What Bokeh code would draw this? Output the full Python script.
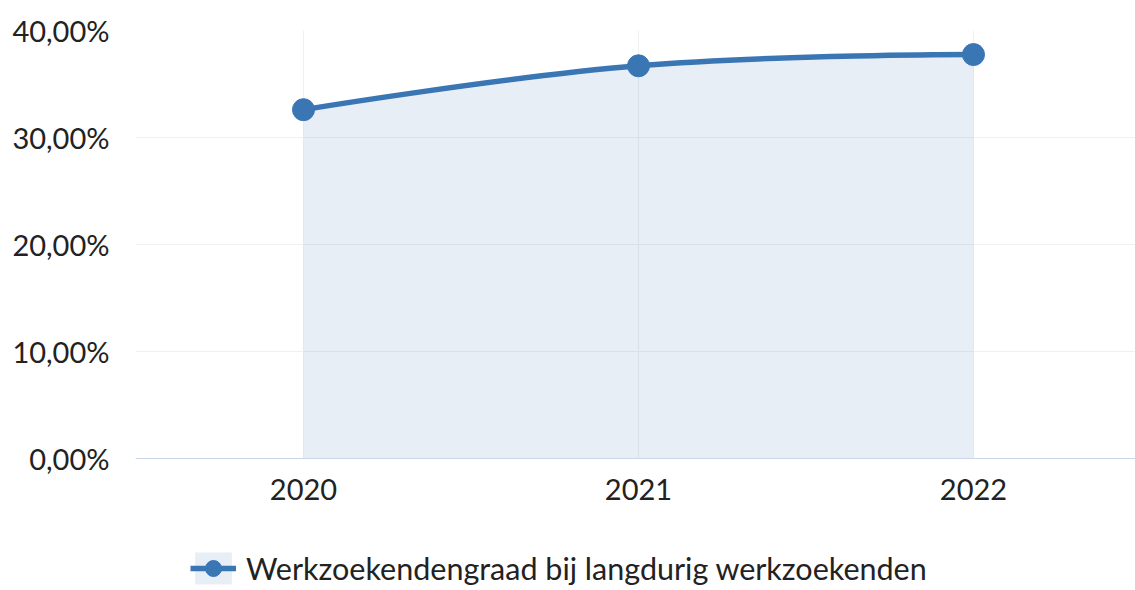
from bokeh.plotting import figure
from bokeh.models import (FixedTicker, Legend, LegendItem, Range1d, Span)
from bokeh.core.properties import value
from bokeh.embed import file_html
from bokeh.resources import INLINE

# ---- data ----
years = ["2020", "2021", "2022"]
values = [32.6, 36.7, 37.75]
y_ticks = [0, 10, 20, 30, 40]
y_tick_labels = ["0,00%", "10,00%", "20,00%", "30,00%", "40,00%"]
series_name = "Werkzoekendengraad bij langdurig werkzoekenden"

BLUE = "#3a76b4"
FONT = "Lato"
TXT = "#222222"
GRID = "#f0f0f0"

xs = list(range(len(years)))
n = len(xs)

p = figure(frame_width=1000, frame_height=560, output_backend="svg",
           toolbar_location=None, x_axis_location=None,
           x_range=Range1d(-0.5015, 2.4836), y_range=Range1d(-12.336, 40),
           min_border_left=135, min_border_right=0, min_border_top=30,
           min_border_bottom=0)
p.outline_line_color = None
p.background_fill_color = "white"
p.xgrid.visible = False

# vertical category grid lines (only over the value range)
p.segment(x0=xs, y0=[y_ticks[0]] * n, x1=xs, y1=[y_ticks[-1]] * n,
          line_color=GRID, line_width=1)

# area
area = p.varea(x=xs, y1=[0] * n, y2=values, fill_color=BLUE, fill_alpha=0.12)

# spline (Highcharts-style control points computed from the data)
smoothing = 1.5
denom = smoothing + 1
ctrl_r = {}
ctrl_l = {}
for i in range(1, n - 1):
    x, y = xs[i], values[i]
    lx, ly = xs[i - 1], values[i - 1]
    nx, ny = xs[i + 1], values[i + 1]
    lcx = (smoothing * x + lx) / denom
    lcy = (smoothing * y + ly) / denom
    rcx = (smoothing * x + nx) / denom
    rcy = (smoothing * y + ny) / denom
    corr = ((rcy - lcy) * (rcx - x)) / (rcx - lcx) + y - rcy
    lcy += corr
    rcy += corr
    ctrl_l[i] = (lcx, lcy)
    ctrl_r[i] = (rcx, rcy)

x0, y0, x1, y1, cx0, cy0, cx1, cy1 = [], [], [], [], [], [], [], []
for i in range(n - 1):
    x0.append(xs[i]); y0.append(values[i])
    x1.append(xs[i + 1]); y1.append(values[i + 1])
    c0 = ctrl_r.get(i, (xs[i], values[i]))
    c1 = ctrl_l.get(i + 1, (xs[i + 1], values[i + 1]))
    cx0.append(c0[0]); cy0.append(c0[1])
    cx1.append(c1[0]); cy1.append(c1[1])

curve = p.bezier(x0=x0, y0=y0, x1=x1, y1=y1, cx0=cx0, cy0=cy0, cx1=cx1, cy1=cy1,
                 line_color=BLUE, line_width=5.5)
pts = p.scatter(x=xs, y=values, size=22, fill_color=BLUE, line_color=BLUE)

# x axis line at 0 and category labels
p.add_layout(Span(location=y_ticks[0], dimension="width", line_color="#ccd6eb",
                  line_width=1))
p.text(x=xs, y=[y_ticks[0]] * n, text=years, y_offset=20,
       text_align="center", text_baseline="top",
       text_font=value(FONT), text_font_size="29px", text_color=TXT)

# y axis
p.yaxis.ticker = FixedTicker(ticks=y_ticks)
p.yaxis.major_label_overrides = {t: l for t, l in zip(y_ticks, y_tick_labels)}
p.yaxis.major_tick_line_color = None
p.yaxis.minor_tick_line_color = None
p.yaxis.axis_line_color = None
p.yaxis.major_label_text_font = FONT
p.yaxis.major_label_text_font_size = "29px"
p.yaxis.major_label_text_color = TXT
p.yaxis.major_label_standoff = 20

p.ygrid.ticker = FixedTicker(ticks=y_ticks)
p.ygrid.grid_line_color = GRID

legend = Legend(items=[LegendItem(label=series_name, renderers=[area, curve, pts])],
                location=(55, 2), orientation="horizontal",
                glyph_width=46, glyph_height=40, padding=0, margin=0,
                label_standoff=10, border_line_color=None,
                background_fill_alpha=0,
                label_text_font=FONT, label_text_font_size="30.5px",
                label_text_color=TXT)
p.add_layout(legend, "center")

with open("out.html", "w") as f:
    f.write(file_html(p, INLINE))
